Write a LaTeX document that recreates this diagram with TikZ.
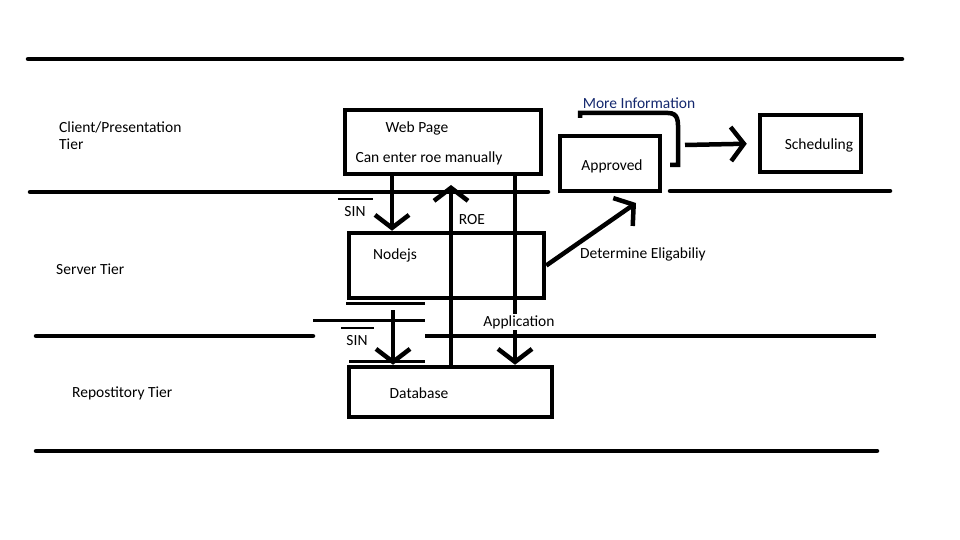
\documentclass[tikz,border=0pt]{standalone}
\usepackage{fontspec}
\setmainfont{Carlito}
\usetikzlibrary{arrows.meta}
\definecolor{infoblue}{RGB}{20,40,110}
\begin{document}
\begin{tikzpicture}[x=1pt,y=-1pt,
  txt/.style={font=\fontsize{15.5}{18}\selectfont, inner sep=0pt},
  tierline/.style={line width=4.5pt, line cap=round},
  thinline/.style={line width=3pt},
  box/.style={draw, line width=4.5pt, rectangle, inner sep=0pt},
  arr/.style={line width=4.5pt, -{Straight Barb[length=13pt,width=34pt,line width=4.5pt]}}]
\useasboundingbox (0,0) rectangle (960,540);

% tier separators
\draw[tierline] (28,59) -- (902,59);
\draw[tierline] (30,192) -- (548,192);
\draw[tierline] (670,191) -- (890,191);
\draw[tierline] (36,336) -- (313,336);
\draw[line width=4.5pt] (425,336) -- (876,336);
\draw[tierline] (36,451) -- (877,451);

% short strokes around the lower SIN arrow
\draw[thinline] (346,303) -- (425,303);
\draw[thinline] (313,320) -- (425,320);
\draw[thinline] (349,361) -- (425,361);

% tier names
\node[txt, anchor=west] (tclient) at (59,127) {Client/Presentation};
\node[txt, anchor=west] (tclient2) at (59,144) {Tier};
\node[txt, anchor=west] (tserver) at (56,269) {Server Tier};
\node[txt, anchor=west] (trepo) at (72,393) {Repostitory Tier};

% boxes
\node[box, minimum width=196pt, minimum height=64pt] (web) at (443,142) {};
\node[box, minimum width=100pt, minimum height=55pt] (approved) at (610,163.5) {};
\node[box, minimum width=101pt, minimum height=57pt] (sched) at (810.5,143.5) {};
\node[box, minimum width=195pt, minimum height=65pt] (nodejs) at (446.5,265.5) {};
\node[box, minimum width=203pt, minimum height=50pt] (db) at (450.5,392) {};

% box texts
\node[txt] (webtitle) at (417,128) {Web Page};
\node[txt] (webnote) at (429,158) {Can enter roe manually};
\node[txt] (apptext) at (612,166) {Approved};
\node[txt] (schedtext) at (819,145) {Scheduling};
\node[txt] (nodetext) at (395,255) {Nodejs};
\node[txt] (dbtext) at (419,393) {Database};

% column positions of the vertical connectors
\coordinate (xsin) at (392,0);
\coordinate (xapp) at (515,0);
\coordinate (roetip) at (451,185);
\coordinate (sinstart) at (393,310);
\coordinate (dettip) at (636,203);
\coordinate (infoend) at (685,145);

% connectors
\draw[arr] (web.south -| xsin) -- (nodejs.north -| xsin);
\draw[arr] (db.north -| roetip) -- (roetip);
\draw[arr] (web.south -| xapp) -- (db.north -| xapp);
\draw[arr] (sinstart) -- (db.north -| sinstart);
\draw[arr] (nodejs.east) -- (dettip);
\draw[arr, shorten >=11pt] (infoend) -- (sched.west);

% more-information bracket
\draw[line width=4.5pt] (580,118) -- (580,113) -- (668,113)
  .. controls (679,113) and (678,122) .. (678,132) -- (678,165) -- (670,165);

% connector labels
\node[txt] (sin1) at (355,212) {SIN};
\draw[line width=1.3pt] (338,199) -- (373,199);
\node[txt] (sin2) at (357,341) {SIN};
\draw[line width=1.3pt] (341,328) -- (374,328);
\node[txt] (roe) at (472,220) {ROE};
\node[txt, fill=white, inner sep=1.5pt] (applabel) at (519,322) {Application};
\node[txt, anchor=west] (detlabel) at (580,254) {Determine Eligabiliy};
\node[txt, text=infoblue] (morelabel) at (639,103) {More Information};
\end{tikzpicture}
\end{document}
